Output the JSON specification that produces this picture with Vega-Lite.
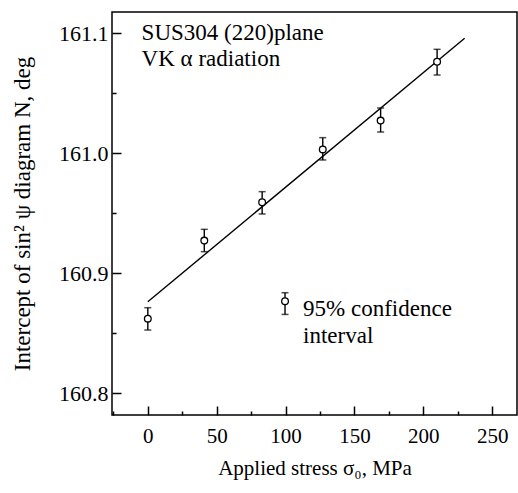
{
  "$schema": "https://vega.github.io/schema/vega-lite/v6.json",
  "width": 405,
  "height": 403,
  "autosize": "none",
  "padding": {"left": 112, "top": 12, "right": 1, "bottom": 78},
  "background": "white",
  "config": {
    "font": "Liberation Serif",
    "view": {"stroke": "black", "strokeWidth": 1.5},
    "axis": {
      "grid": false,
      "domain": false,
      "tickColor": "black",
      "tickWidth": 1.5,
      "labelColor": "black",
      "titleColor": "black",
      "labelFont": "Liberation Serif",
      "titleFont": "Liberation Serif",
      "titleFontWeight": "normal"
    }
  },
  "datasets": {
    "pts": [
      {"stress": 0, "N": 160.862, "lo": 160.8525, "hi": 160.8711},
      {"stress": 41, "N": 160.927, "lo": 160.9178, "hi": 160.9364},
      {"stress": 83, "N": 160.959, "lo": 160.9492, "hi": 160.9678},
      {"stress": 127, "N": 161.003, "lo": 160.9942, "hi": 161.0128},
      {"stress": 169, "N": 161.027, "lo": 161.0175, "hi": 161.0375},
      {"stress": 210, "N": 161.076, "lo": 161.065, "hi": 161.0864},
      {"stress": 99.6, "N": 160.8765, "lo": 160.8655, "hi": 160.8836}
    ],
    "fit": [
      {"stress": 0, "N": 160.876},
      {"stress": 230, "N": 161.0956}
    ],
    "notes": [
      {"stress": -4.5, "N": 161.0945, "label": "SUS304 (220)plane"},
      {"stress": -4.5, "N": 161.0728, "label": "VK α  radiation"},
      {"stress": 112.7, "N": 160.8642, "label": "95% confidence"},
      {"stress": 112.7, "N": 160.8417, "label": "interval"}
    ]
  },
  "resolve": {"axis": {"x": "independent", "y": "independent"}},
  "layer": [
    {
      "data": {"name": "fit"},
      "mark": {"type": "line", "color": "black", "strokeWidth": 1.4},
      "encoding": {
        "x": {
          "field": "stress", "type": "quantitative",
          "scale": {"domain": [-26, 268], "nice": false, "zero": false},
          "axis": {"orient": "bottom", "values": [-25, 25, 75, 125, 175, 225], "labels": false, "tickSize": -4, "title": null}
        },
        "y": {
          "field": "N", "type": "quantitative",
          "scale": {"domain": [160.7817, 161.1175], "nice": false, "zero": false},
          "axis": {"orient": "left", "values": [160.85, 160.95, 161.05], "labels": false, "tickSize": -4, "title": null}
        }
      }
    },
    {
      "data": {"name": "pts"},
      "mark": {"type": "errorbar", "color": "black", "rule": {"strokeWidth": 1.4}, "ticks": {"size": 7, "thickness": 1.5, "color": "black"}},
      "encoding": {
        "x": {"field": "stress", "type": "quantitative", "axis": null},
        "y": {"field": "lo", "type": "quantitative", "axis": null},
        "y2": {"field": "hi"}
      }
    },
    {
      "data": {"name": "pts"},
      "mark": {"type": "point", "shape": "circle", "filled": true, "fill": "white", "stroke": "black", "strokeWidth": 1.3, "size": 45, "opacity": 1},
      "encoding": {
        "x": {
          "field": "stress", "type": "quantitative",
          "axis": {
            "orient": "bottom", "values": [0, 50, 100, 150, 200, 250],
            "tickSize": -9, "labelPadding": 19, "labelFontSize": 21,
            "title": "Applied stress σ₀, MPa", "titleFontSize": 21, "titlePadding": 11
          }
        },
        "y": {
          "field": "N", "type": "quantitative",
          "axis": {
            "orient": "left", "values": [160.8, 160.9, 161.0, 161.1], "format": ".1f",
            "tickSize": -9, "labelPadding": 13, "labelFontSize": 22,
            "title": "Intercept of sin²  ψ  diagram N, deg", "titleFontSize": 23, "titlePadding": 24
          }
        }
      }
    },
    {
      "data": {"name": "notes"},
      "mark": {"type": "text", "align": "left", "baseline": "alphabetic", "fontSize": 23, "font": "Liberation Serif", "color": "black"},
      "encoding": {
        "x": {"field": "stress", "type": "quantitative", "axis": null},
        "y": {"field": "N", "type": "quantitative", "axis": null},
        "text": {"field": "label"}
      }
    }
  ]
}
